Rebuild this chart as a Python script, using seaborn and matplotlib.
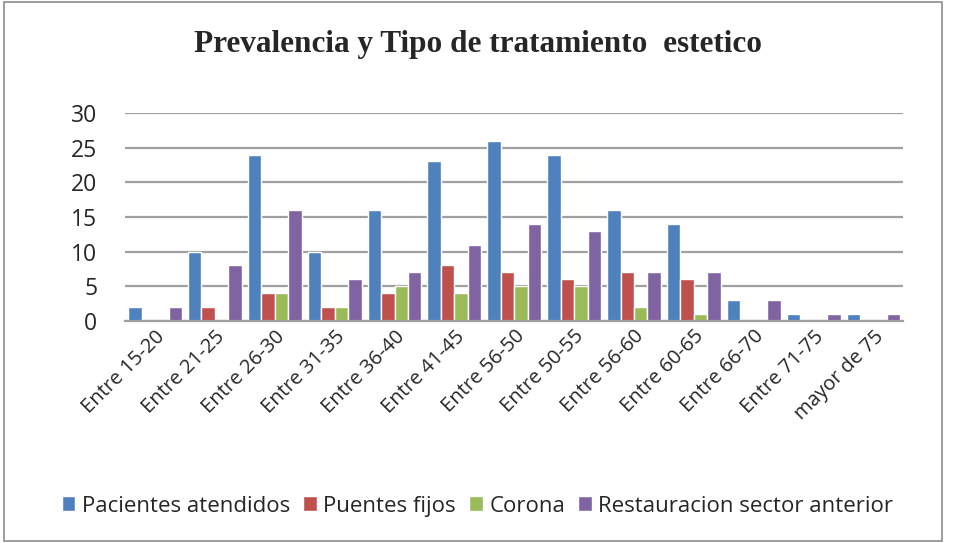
import pandas as pd
import seaborn as sns
import matplotlib.pyplot as plt
from matplotlib.patches import Rectangle

grupos = ["Entre 15-20", "Entre 21-25", "Entre 26-30", "Entre 31-35", "Entre 36-40",
          "Entre 41-45", "Entre 56-50", "Entre 50-55", "Entre 56-60", "Entre 60-65",
          "Entre 66-70", "Entre 71-75", "mayor de 75"]
pacientes = [2, 10, 24, 10, 16, 23, 26, 24, 16, 14, 3, 1, 1]
puentes = [0, 2, 4, 2, 4, 8, 7, 6, 7, 6, 0, 0, 0]
corona = [0, 0, 4, 2, 5, 4, 5, 5, 2, 1, 0, 0, 0]
restauracion = [2, 8, 16, 6, 7, 11, 14, 13, 7, 7, 3, 1, 1]

series = ["Pacientes atendidos", "Puentes fijos", "Corona", "Restauracion sector anterior"]
colores = ["#4F81BD", "#C0504D", "#9BBB59", "#8064A2"]

df = pd.DataFrame({"grupo": grupos, series[0]: pacientes, series[1]: puentes,
                   series[2]: corona, series[3]: restauracion})
df = df.melt(id_vars="grupo", var_name="serie", value_name="valor")

sns.set_style("white")
plt.rcParams['font.family'] = ['Open Sans', 'DejaVu Sans']

fig = plt.figure(figsize=(9.55, 5.43), dpi=100)
ax = fig.add_axes([0.131, 0.409, 0.815, 0.383])

sns.barplot(data=df, x="grupo", y="valor", hue="serie", palette=colores,
            width=0.9, gap=0.0, ax=ax, saturation=1)

ax.set_ylim(0, 30)
ax.set_xlim(-0.5, 12.5)
ax.set_yticks(range(0, 31, 5))
ax.yaxis.grid(True, color="#a0a0a0", linewidth=1.6)
ax.set_axisbelow(True)
for s in ["top", "right", "left"]:
    ax.spines[s].set_visible(False)
ax.spines["bottom"].set_color("#a0a0a0")
ax.spines["bottom"].set_linewidth(1.6)
ax.set_xlabel("")
ax.set_ylabel("")
ax.tick_params(axis="y", labelsize=16.5, length=0, pad=20)
ax.tick_params(axis="x", labelsize=14.5, length=0, pad=4)
plt.setp(ax.get_xticklabels(), rotation=45, ha="right", rotation_mode="anchor")

ax.legend(loc="center", bbox_to_anchor=(0.5, 0.068), bbox_transform=fig.transFigure,
          ncol=4, frameon=False, fontsize=16, handlelength=0.6, handleheight=0.65,
          handletextpad=0.3, columnspacing=0.6)

fig.suptitle("Prevalencia y Tipo de tratamiento  estetico", y=0.945,
             fontsize=22.5, fontweight="bold", family="Liberation Serif")

fig.patches.append(Rectangle((0.004, 0.004), 0.982, 0.992, transform=fig.transFigure,
                             fill=False, edgecolor="#8c8c8c", linewidth=1.2))

fig.savefig("out.png", dpi=100)
